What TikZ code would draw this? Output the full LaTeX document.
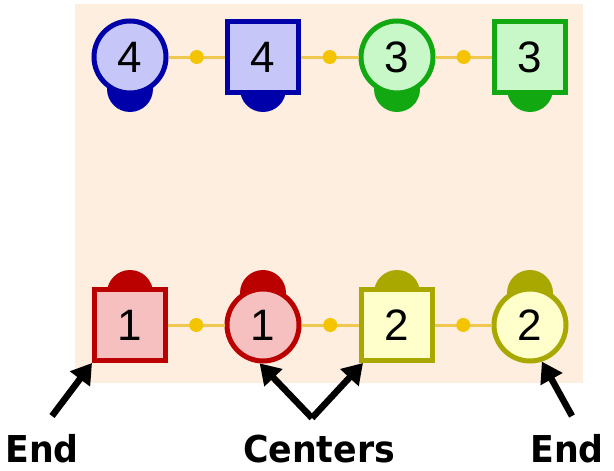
\documentclass[tikz,border=0pt]{standalone}
\usepackage{fontspec}
\setmainfont{Liberation Sans}
\newfontfamily\calloutfont[FakeStretch = 0.94]{DejaVu Sans}
\usetikzlibrary{arrows.meta}

\definecolor{peach}{HTML}{FDEEE0}
\definecolor{gold}{HTML}{F5C400}
\definecolor{linkgold}{HTML}{F0C850}
\definecolor{bluedark}{HTML}{0000AA}
\definecolor{bluelight}{HTML}{C6C6F8}
\definecolor{greendark}{HTML}{11A811}
\definecolor{greenlight}{HTML}{C8F8C8}
\definecolor{reddark}{HTML}{BB0000}
\definecolor{redlight}{HTML}{F7C0C0}
\definecolor{olivedark}{HTML}{A8A800}
\definecolor{olivelight}{HTML}{FFFFCC}

\begin{document}
\begin{tikzpicture}
      [x = 1pt, y = -1pt,
        ring/.style={circle, line width = 5pt, minimum size = 72pt, inner sep = 0pt,
          font = \fontsize{44}{44}\selectfont},
        box/.style={rectangle, line width = 5pt, minimum size = 71pt, inner sep = 0pt,
          font = \fontsize{44}{44}\selectfont},
        knob/.style={circle, inner sep = 0pt, minimum size = 46pt},
        dot/.style={circle, inner sep = 0pt, minimum size = 14pt, fill = gold},
        link/.style={draw = linkgold, line width = 3pt},
        pointer/.style={line width = 6.5pt, -{Triangle[length = 20pt, width = 24pt]}},
        callout/.style={anchor = base, font = \calloutfont\bfseries\fontsize{37}{37}\selectfont}]
    \useasboundingbox (0,0) rectangle (614,471);
    \fill[peach] (75,4) rectangle (583,383);
    % knobs first, so the shapes sit on top of them
    \node[knob, fill = bluedark] (k4a) at (130,89) {};
    \node[knob, fill = bluedark] (k4b) at (263,89) {};
    \node[knob, fill = greendark] (k3a) at (397,89) {};
    \node[knob, fill = greendark] (k3b) at (530,89) {};
    \node[knob, fill = reddark] (k1a) at (130,293) {};
    \node[knob, fill = reddark] (k1b) at (263,293) {};
    \node[knob, fill = olivedark] (k2a) at (397,293) {};
    \node[knob, fill = olivedark] (k2b) at (530,293) {};
    % top row
    \node[ring, draw = bluedark, fill = bluelight] (c4) at (130,57) {4};
    \node[box, draw = bluedark, fill = bluelight] (s4) at (263,57) {4};
    \node[ring, draw = greendark, fill = greenlight] (c3) at (397,57) {3};
    \node[box, draw = greendark, fill = greenlight] (s3) at (530,57) {3};
    % bottom row
    \node[box, draw = reddark, fill = redlight] (s1) at (130,325) {1};
    \node[ring, draw = reddark, fill = redlight] (c1) at (263,325) {1};
    \node[box, draw = olivedark, fill = olivelight] (s2) at (397,325) {2};
    \node[ring, draw = olivedark, fill = olivelight] (c2) at (530,325) {2};
    \draw[link] (c4) -- node[dot] {} (s4) -- node[dot] {} (c3) -- node[dot] {} (s3);
    \draw[link] (s1) -- node[dot] {} (c1) -- node[dot] {} (s2) -- node[dot] {} (c2);
    % labels
    \node[callout] (endl) at (42,462) {End};
    \node[callout] (mid) at (319,462) {Centers};
    \node[callout] (endr) at (567,462) {End};
    \draw[pointer] (52,416) -- (s1.south west);
    \draw[pointer] (312,418) -- (c1.-95);
    \draw[pointer] (312,418) -- ([xshift = 4pt]s2.south west);
    \draw[pointer] (572,416) -- (c2.-72);
    \end{tikzpicture}
\end{document}
